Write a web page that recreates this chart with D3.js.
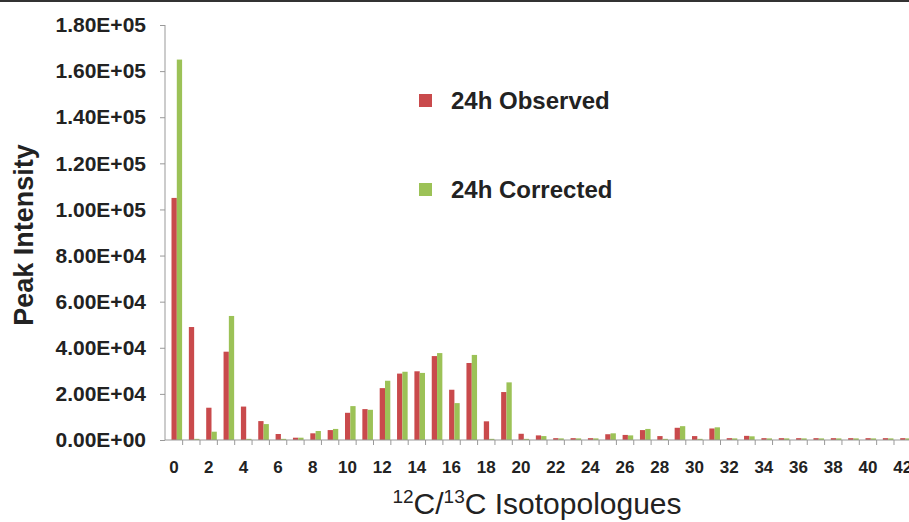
<!DOCTYPE html>
<html>
<head>
<meta charset="utf-8">
<script src="https://cdn.jsdelivr.net/npm/d3@7"></script>
<style>
  body { margin: 0; background: #fff; }
  svg { display: block; font-family: "Liberation Sans", Arial, sans-serif; }
</style>
</head>
<body>
<script>
// isotopologue index 0..42
var categories = d3.range(0, 43);

// peak intensity, 24h observed (red) and corrected (green)
var observed = [105000, 49000, 14000, 38300, 14500, 8200, 2600, 1000, 2900, 4300,
                11800, 13400, 22500, 28800, 29800, 36400, 21800, 33400, 8100, 20800,
                2700, 2000, 800, 800, 800, 2500, 2200, 4300, 1700, 5300,
                1700, 5000, 800, 1800, 800, 800, 800, 800, 800, 800,
                800, 800, 800];
var corrected = [165000, 500, 3600, 53800, 500, 6900, 500, 1000, 3900, 4800,
                 14700, 13100, 25700, 29600, 29100, 37700, 16000, 36900, 500, 25000,
                 500, 1700, 700, 700, 700, 2900, 2000, 4800, 500, 6000,
                 500, 5500, 700, 1600, 700, 700, 700, 700, 700, 700,
                 700, 700, 700];

var yTicks = [0, 20000, 40000, 60000, 80000, 100000, 120000, 140000, 160000, 180000];
var yTickLabels = ["0.00E+00", "2.00E+04", "4.00E+04", "6.00E+04", "8.00E+04",
                   "1.00E+05", "1.20E+05", "1.40E+05", "1.60E+05", "1.80E+05"];
var xTickLabels = d3.range(0, 43, 2);

var seriesNames = ["24h Observed", "24h Corrected"];
var colors = ["#c94a4c", "#9cc257"];

var width = 909, height = 522;
var svg = d3.select("body").append("svg")
  .attr("width", width)
  .attr("height", height);

// dark rule along the top edge
svg.append("rect")
  .attr("x", 0).attr("y", 0)
  .attr("width", width).attr("height", 2)
  .attr("fill", "#333");

var x = d3.scaleBand()
  .domain(categories)
  .range([165.3, 165.3 + 43 * 17.35]);

// bars sit a little right of centre in each slot
var xSub = d3.scaleBand()
  .domain([0, 1])
  .range([6.2, 16.8]);

var y = d3.scaleLinear()
  .domain([0, 180000])
  .range([440, 25]);

var series = [observed, corrected];

series.forEach(function (vals, s) {
  svg.append("g").selectAll("rect")
    .data(vals)
    .enter()
    .append("rect")
    .attr("x", function (d, i) { return x(categories[i]) + xSub(s); })
    .attr("width", xSub.bandwidth())
    .attr("y", function (d) { return y(d); })
    .attr("height", function (d) { return y(0) - y(d); })
    .attr("fill", colors[s]);
});

// y axis
var yAxis = svg.append("g")
  .attr("transform", "translate(165,0)")
  .call(d3.axisLeft(y)
    .tickValues(yTicks)
    .tickSize(5)
    .tickPadding(14)
    .tickFormat(function (d, i) { return yTickLabels[i]; }));
yAxis.select(".domain").attr("stroke", "#999").attr("d", "M0,25V440");
yAxis.selectAll(".tick line").attr("stroke", "#999");
yAxis.selectAll("text")
  .attr("font-size", 21)
  .attr("font-weight", "bold")
  .attr("fill", "#222")
  .attr("font-family", "Liberation Sans, Arial, sans-serif");

// x axis line + boundary ticks
svg.append("line")
  .attr("x1", 165).attr("x2", width)
  .attr("y1", 440).attr("y2", 440)
  .attr("stroke", "#999");

svg.append("g").selectAll("line")
  .data(categories)
  .enter()
  .append("line")
  .attr("x1", function (d) { return x(d) + x.bandwidth(); })
  .attr("x2", function (d) { return x(d) + x.bandwidth(); })
  .attr("y1", 440).attr("y2", 445)
  .attr("stroke", "#999");

svg.append("g").selectAll("text")
  .data(xTickLabels)
  .enter()
  .append("text")
  .attr("x", function (d) { return x(d) + x.bandwidth() / 2; })
  .attr("y", 473)
  .attr("text-anchor", "middle")
  .attr("font-size", 17)
  .attr("font-weight", "bold")
  .attr("fill", "#222")
  .text(function (d) { return d; });

// axis titles
svg.append("text")
  .attr("transform", "translate(33,235) rotate(-90)")
  .attr("text-anchor", "middle")
  .attr("font-size", 27)
  .attr("font-weight", "bold")
  .attr("fill", "#222")
  .text("Peak Intensity");

var xTitle = svg.append("text")
  .attr("x", 537)
  .attr("y", 514)
  .attr("text-anchor", "middle")
  .attr("font-size", 30)
  .attr("fill", "#222");
xTitle.append("tspan").attr("font-size", 19).attr("dy", -11).text("12");
xTitle.append("tspan").attr("dy", 11).text("C/");
xTitle.append("tspan").attr("font-size", 19).attr("dy", -11).text("13");
xTitle.append("tspan").attr("dy", 11).text("C Isotopologues");

// legend
var legend = svg.append("g").selectAll("g")
  .data(seriesNames)
  .enter()
  .append("g")
  .attr("transform", function (d, i) { return "translate(419," + (94 + i * 89) + ")"; });

legend.append("rect")
  .attr("width", 13).attr("height", 13)
  .attr("fill", function (d, i) { return colors[i]; });

legend.append("text")
  .attr("x", 32)
  .attr("y", 15)
  .attr("font-size", 24)
  .attr("font-weight", "bold")
  .attr("fill", "#222")
  .text(function (d) { return d; });
</script>
</body>
</html>
